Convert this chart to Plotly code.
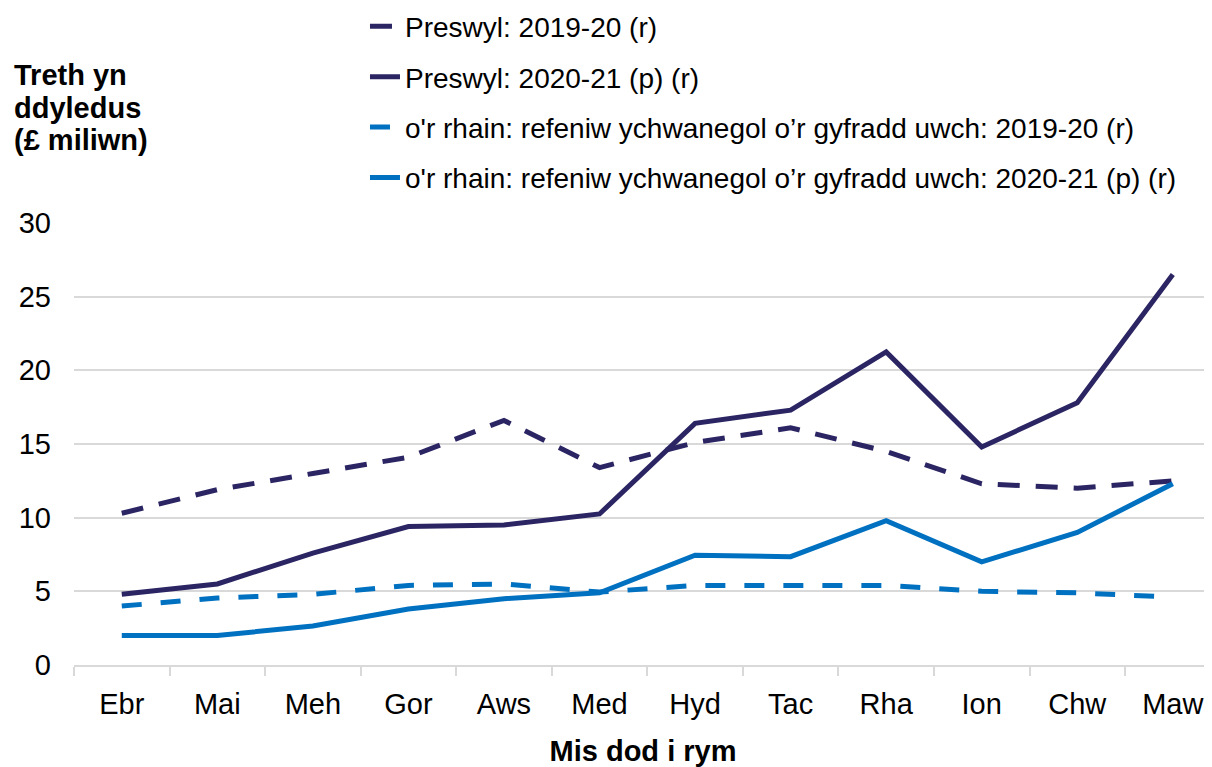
import plotly.graph_objects as go

months = ['Ebr', 'Mai', 'Meh', 'Gor', 'Aws', 'Med', 'Hyd', 'Tac', 'Rha', 'Ion', 'Chw', 'Maw']

preswyl_1920 = [10.3, 11.9, 13.0, 14.1, 16.6, 13.4, 15.1, 16.1, 14.5, 12.3, 12.0, 12.5]
preswyl_2021 = [4.8, 5.5, 7.6, 9.4, 9.5, 10.25, 16.4, 17.3, 21.25, 14.8, 17.8, 26.5]
uwch_1920 = [4.0, 4.55, 4.8, 5.4, 5.5, 4.95, 5.4, 5.4, 5.4, 5.0, 4.9, 4.6]
uwch_2021 = [2.0, 2.0, 2.65, 3.8, 4.5, 4.9, 7.45, 7.35, 9.8, 7.0, 9.0, 12.3]

y_title = ['Treth yn', 'ddyledus', '(\u00a3 miliwn)']

dark = '#2B2663'
blue = '#0071C1'
font = 'Liberation Sans, Arial, sans-serif'

fig = go.Figure()

fig.add_trace(go.Scatter(x=months, y=preswyl_1920, mode='lines',
                         name='Preswyl: 2019-20 (r)', legendgroup='a',
                         line=dict(color=dark, width=5, dash='22px,16px')))
fig.add_trace(go.Scatter(x=months, y=preswyl_2021, mode='lines',
                         name='Preswyl: 2020-21 (p) (r)', legendgroup='b',
                         line=dict(color=dark, width=5)))
fig.add_trace(go.Scatter(x=months, y=uwch_1920, mode='lines',
                         name='o\'r rhain: refeniw ychwanegol o\u2019r gyfradd uwch: 2019-20 (r)',
                         legendgroup='c',
                         line=dict(color=blue, width=5, dash='20px,19px')))
fig.add_trace(go.Scatter(x=months, y=uwch_2021, mode='lines',
                         name='o\'r rhain: refeniw ychwanegol o\u2019r gyfradd uwch: 2020-21 (p) (r)',
                         legendgroup='d',
                         line=dict(color=blue, width=5)))

fig.update_xaxes(type='category',
                 range=[-0.5, 11.41],
                 showgrid=False,
                 showline=True, linecolor='#d9d9d9', linewidth=2,
                 ticks='outside', tickson='boundaries', ticklen=9,
                 tickcolor='#d9d9d9', tickwidth=2,
                 tickfont=dict(size=29, color='black'),
                 ticklabelstandoff=12,
                 title=dict(text='<b>Mis dod i rym</b>', font=dict(size=29, color='black'),
                            standoff=25))

fig.update_yaxes(range=[0, 30], dtick=5,
                 showgrid=True, gridcolor='#d9d9d9', gridwidth=2,
                 zeroline=False, showline=False,
                 tickfont=dict(size=29, color='black'),
                 ticklabelstandoff=22)

# y-axis title, one line per annotation
for i, line in enumerate(y_title):
    fig.add_annotation(text='<b>' + line + '</b>',
                       xref='paper', yref='paper', x=-0.0545, y=1.335 - i * 0.074,
                       xanchor='left', yanchor='middle', align='left',
                       showarrow=False, font=dict(size=29, color='black'))

fig.update_layout(width=1204, height=759,
                  margin=dict(l=66, r=0, t=215, b=102, autoexpand=False),
                  paper_bgcolor='white', plot_bgcolor='white',
                  font=dict(family=font, color='black'),
                  legend=dict(x=0.2557, y=1.501, xanchor='left', yanchor='top',
                              font=dict(size=28, color='black'),
                              tracegroupgap=11, bgcolor='rgba(0,0,0,0)'))

fig.write_html('out.html')
